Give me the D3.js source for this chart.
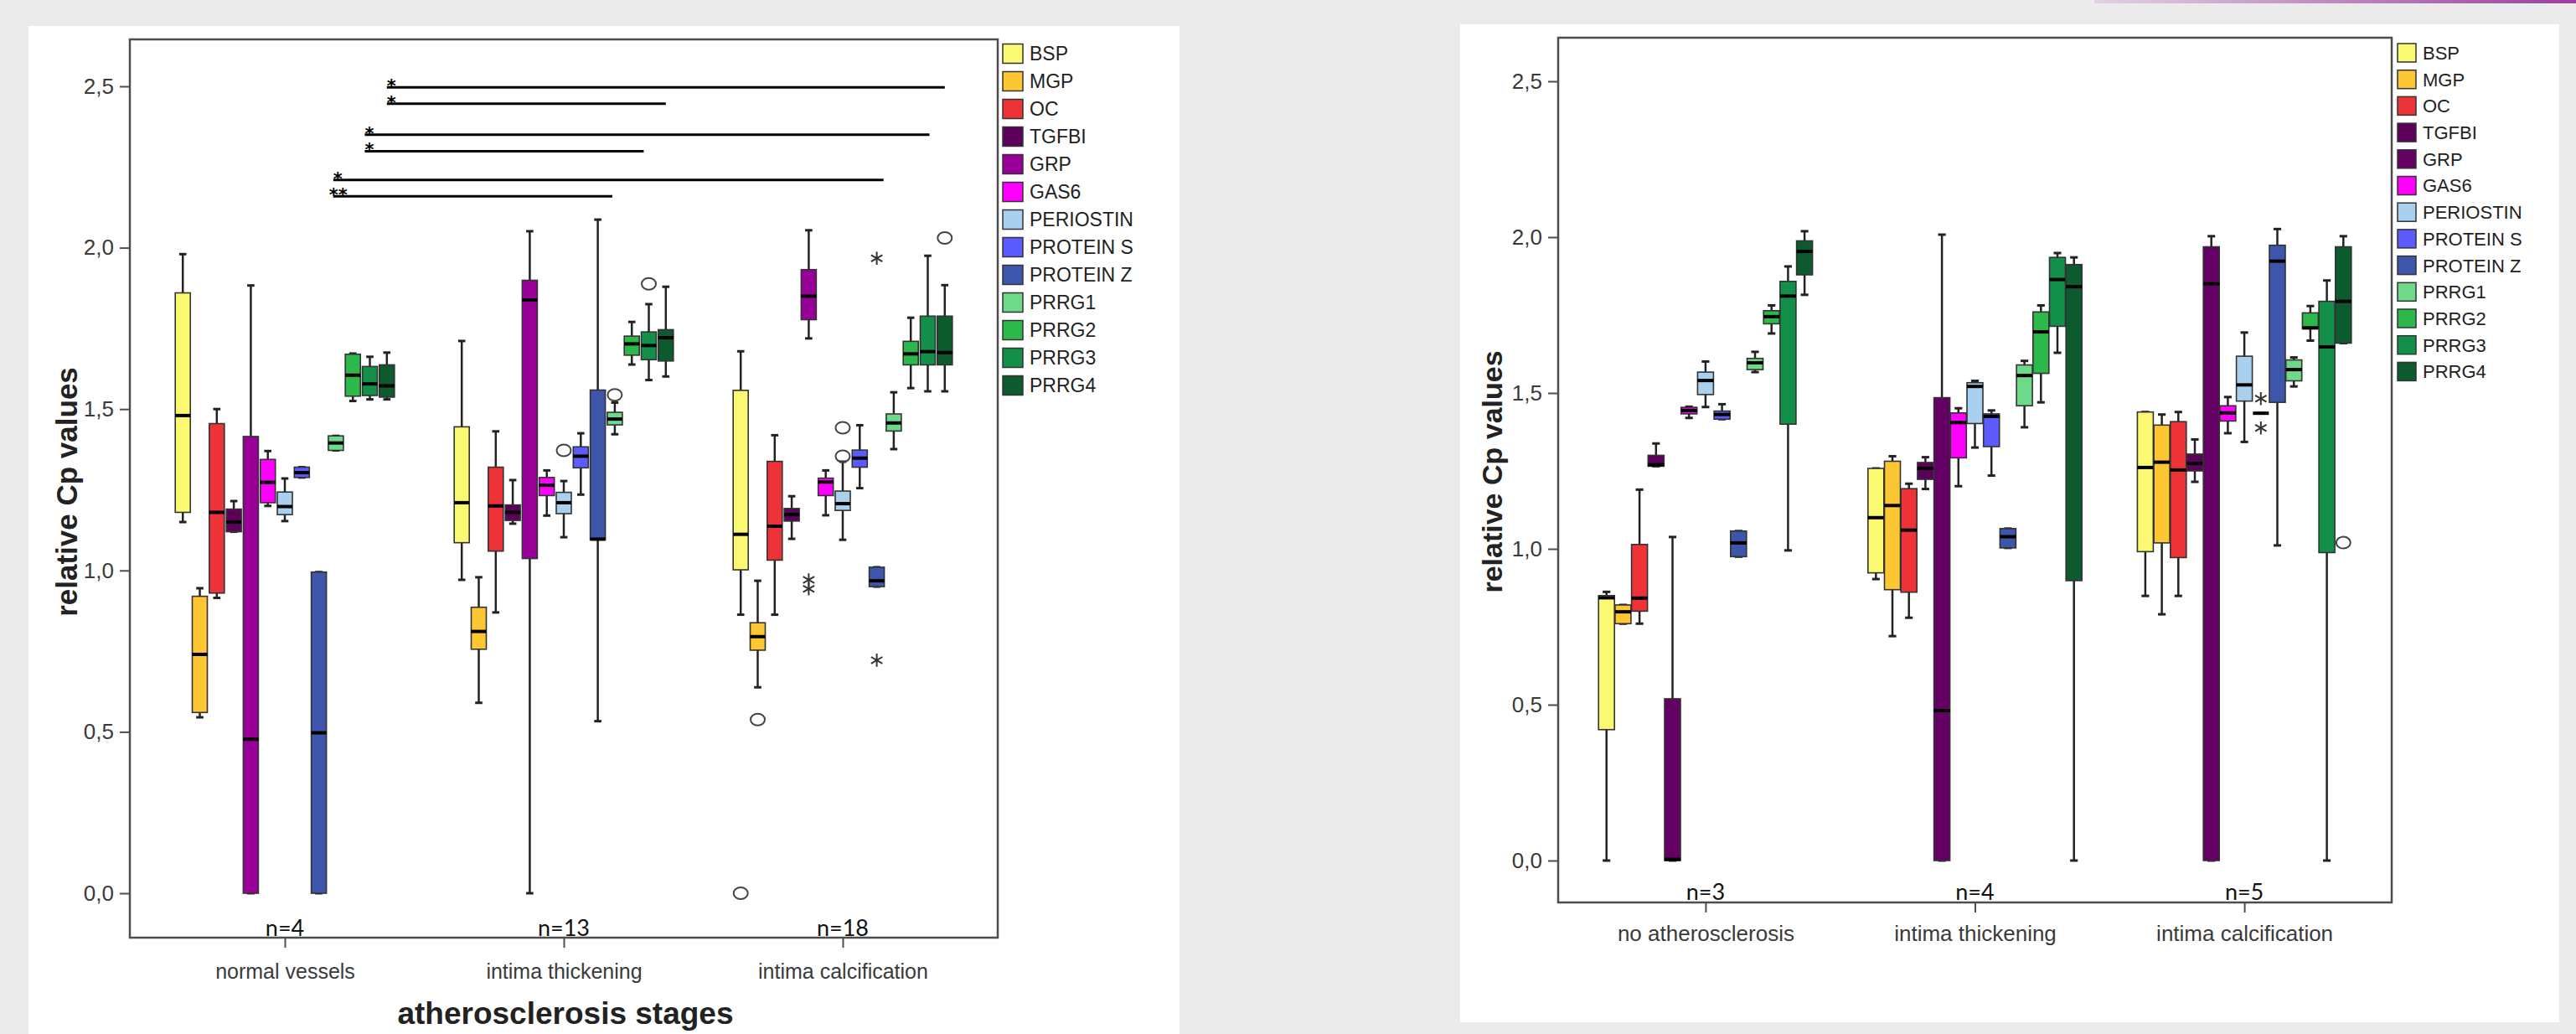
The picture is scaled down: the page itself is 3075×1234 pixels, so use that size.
<!DOCTYPE html>
<html>
<head>
<meta charset="utf-8">
<script src="https://cdn.jsdelivr.net/npm/d3@7"></script>
<style>
body { margin: 0; background: #ebebeb; }
svg text { font-family: "Liberation Sans", Arial, sans-serif; }
</style>
</head>
<body>
<svg id="slide" width="3075" height="1234"></svg>
<script>
// ---- data -------------------------------------------------------------
var genes = ["BSP", "MGP", "OC", "TGFBI", "GRP", "GAS6", "PERIOSTIN",
    "PROTEIN S", "PROTEIN Z", "PRRG1", "PRRG2", "PRRG3", "PRRG4"];

var leftColors = ["#fbf872", "#fdc633", "#ee3338", "#5c005c", "#990099", "#ff00ff",
    "#a9d1ef", "#5b5bff", "#3d55ab", "#6fd98a", "#2db84b", "#12904a", "#0d5a2f"];
var rightColors = ["#fbf872", "#fdc633", "#ee3338", "#5c005c", "#640064", "#ff00ff",
    "#a9d1ef", "#5b5bff", "#3d55ab", "#6fd98a", "#2db84b", "#12904a", "#0d5a2f"];

var leftStages = ["normal vessels", "intima thickening", "intima calcification"];
var leftCounts = ["n=4", "n=13", "n=18"];
var rightStages = ["no atherosclerosis", "intima thickening", "intima calcification"];
var rightCounts = ["n=3", "n=4", "n=5"];
var yTicks = [0, 0.5, 1, 1.5, 2, 2.5];

// box stats per gene: [lower whisker, q1, median, q3, upper whisker]
var leftNormal = [
    [1.15, 1.18, 1.48, 1.86, 1.98],
    [0.545, 0.56, 0.74, 0.92, 0.945],
    [0.915, 0.93, 1.18, 1.455, 1.50],
    [1.12, 1.12, 1.15, 1.19, 1.215],
    [0, 0, 0.477, 1.415, 1.883],
    [1.20, 1.21, 1.273, 1.344, 1.37],
    [1.153, 1.173, 1.198, 1.243, 1.285],
    [1.288, 1.288, 1.303, 1.32, 1.32],
    [0, 0, 0.497, 0.995, 0.995],
    [1.372, 1.372, 1.395, 1.417, 1.417],
    [1.525, 1.54, 1.605, 1.67, 1.672],
    [1.53, 1.542, 1.578, 1.632, 1.662],
    [1.53, 1.537, 1.572, 1.637, 1.675]
];
var leftThickening = [
    [0.971, 1.086, 1.21, 1.445, 1.711],
    [0.59, 0.756, 0.811, 0.886, 0.979],
    [0.87, 1.06, 1.20, 1.32, 1.431],
    [1.145, 1.155, 1.18, 1.203, 1.28],
    [0, 1.037, 1.838, 1.899, 2.051],
    [1.17, 1.232, 1.264, 1.288, 1.31],
    [1.103, 1.176, 1.21, 1.242, 1.277],
    [1.235, 1.318, 1.354, 1.383, 1.425],
    [0.533, 1.095, 1.097, 1.559, 2.087],
    [1.422, 1.451, 1.469, 1.49, 1.52],
    [1.638, 1.667, 1.702, 1.726, 1.77],
    [1.59, 1.653, 1.697, 1.739, 1.825],
    [1.601, 1.649, 1.721, 1.746, 1.879]
];
var leftCalcification = [
    [0.863, 1.002, 1.112, 1.558, 1.679],
    [0.638, 0.753, 0.795, 0.838, 0.968],
    [0.863, 1.032, 1.137, 1.338, 1.419],
    [1.098, 1.153, 1.173, 1.192, 1.23],
    [1.719, 1.777, 1.85, 1.932, 2.054],
    [1.171, 1.232, 1.274, 1.286, 1.31],
    [1.095, 1.186, 1.207, 1.246, 1.337],
    [1.255, 1.32, 1.348, 1.373, 1.45],
    [0.95, 0.95, 0.968, 1.01, 1.01],
    [1.376, 1.432, 1.457, 1.485, 1.552],
    [1.565, 1.637, 1.671, 1.71, 1.783],
    [1.555, 1.637, 1.678, 1.788, 1.975],
    [1.555, 1.637, 1.675, 1.788, 1.884]
];

var rightNoAthero = [
    [0, 0.42, 0.843, 0.85, 0.862],
    [0.76, 0.76, 0.798, 0.82, 0.82],
    [0.76, 0.80, 0.842, 1.014, 1.19],
    [1.265, 1.265, 1.27, 1.30, 1.338],
    [0, 0, 0.004, 0.519, 1.038],
    [1.42, 1.433, 1.444, 1.454, 1.456],
    [1.455, 1.495, 1.54, 1.567, 1.601],
    [1.416, 1.416, 1.431, 1.442, 1.464],
    [0.975, 0.975, 1.019, 1.057, 1.057],
    [1.567, 1.575, 1.597, 1.611, 1.632],
    [1.691, 1.722, 1.745, 1.764, 1.781],
    [0.995, 1.40, 1.811, 1.858, 1.906],
    [1.815, 1.879, 1.954, 1.988, 2.019]
];
var rightThickening = [
    [0.903, 0.923, 1.10, 1.258, 1.258],
    [0.72, 0.869, 1.139, 1.281, 1.297],
    [0.779, 0.861, 1.06, 1.193, 1.209],
    [1.192, 1.223, 1.258, 1.277, 1.294],
    [0, 0, 0.481, 1.485, 2.008],
    [1.201, 1.292, 1.405, 1.436, 1.451],
    [1.325, 1.402, 1.521, 1.533, 1.539],
    [1.235, 1.328, 1.425, 1.433, 1.444],
    [1.003, 1.003, 1.039, 1.065, 1.065],
    [1.39, 1.459, 1.556, 1.59, 1.603],
    [1.47, 1.563, 1.696, 1.76, 1.781],
    [1.629, 1.714, 1.864, 1.935, 1.949],
    [0, 0.898, 1.841, 1.912, 1.935]
];
var rightCalcification = [
    [0.849, 0.991, 1.261, 1.439, 1.439],
    [0.79, 1.019, 1.278, 1.397, 1.431],
    [0.849, 0.972, 1.253, 1.408, 1.439],
    [1.215, 1.25, 1.274, 1.304, 1.351],
    [0, 0, 1.85, 1.969, 2.003],
    [1.371, 1.41, 1.436, 1.459, 1.487],
    [1.343, 1.474, 1.526, 1.618, 1.694],
    [1.435, 1.435, 1.435, 1.435, 1.435],
    [1.011, 1.47, 1.923, 1.974, 2.026],
    [1.521, 1.539, 1.575, 1.606, 1.614],
    [1.668, 1.706, 1.709, 1.757, 1.779],
    [0, 0.988, 1.648, 1.794, 1.861],
    [1.66, 1.66, 1.794, 1.969, 2.003]
];

// outliers: [stage index, gene index, value, kind]  "o" = outlier, "*" = extreme
var leftOutliers = [
    [1, 6, 1.372, "o"], [1, 9, 1.544, "o"], [1, 11, 1.888, "o"],
    [2, 0, 0.0, "o"], [2, 1, 0.538, "o"], [2, 4, 0.971, "*"], [2, 4, 0.943, "*"],
    [2, 6, 1.442, "o"], [2, 6, 1.354, "o"], [2, 8, 1.967, "*"], [2, 8, 0.722, "*"],
    [2, 12, 2.03, "o"]
];
var rightOutliers = [
    [2, 7, 1.482, "*"], [2, 7, 1.388, "*"], [2, 12, 1.02, "o"]
];

// significance bars (left chart): [stage, box position] at each end
var sigStart = [[0, 12], [0, 12], [0, 10.7], [0, 10.7], [0, 8.85], [0, 8.85]];
var sigEnd = [[2, 12], [1, 12], [2, 11.1], [1, 10.7], [2, 8.4], [1, 8.85]];
var sigLevel = [2.497, 2.446, 2.35, 2.299, 2.21, 2.159];
var sigLabel = ["*", "*", "*", "*", "*", "**"];

// ---- drawing ----------------------------------------------------------
var svg = d3.select("#slide");
var comma = d3.formatLocale({ decimal: ",", thousands: ".", grouping: [3], currency: ["", ""] }).format(".1f");

// slide decoration at top right
var grad = svg.append("defs").append("linearGradient").attr("id", "topline");
grad.append("stop").attr("offset", "0%").attr("stop-color", "#e2d2e2");
grad.append("stop").attr("offset", "100%").attr("stop-color", "#9a3f9e");
svg.append("rect").attr("x", 2500).attr("y", 0).attr("width", 575).attr("height", 4)
    .attr("fill", "url(#topline)");

BoxChart = function(_opts) {
    this.o = _opts;
    this.initVis();
};

BoxChart.prototype.initVis = function() {
    var vis = this, o = vis.o;

    vis.g = svg.append("g");

    vis.g.append("rect")
        .attr("x", o.panel[0]).attr("y", o.panel[1])
        .attr("width", o.panel[2]).attr("height", o.panel[3])
        .attr("fill", "#fff");

    vis.x = d3.scalePoint().domain(o.stages).range([o.left, o.right]).padding(o.pad);
    vis.y = d3.scaleLinear().domain([0, 2.5]).range(o.yRange);
    vis.pos = d3.scaleLinear().domain([0, genes.length - 1]).range([-o.half, o.half]);

    // frame
    vis.g.append("rect")
        .attr("x", o.left).attr("y", o.top)
        .attr("width", o.right - o.left).attr("height", o.bottom - o.top)
        .attr("fill", "none").attr("stroke", "#4d4d4d").attr("stroke-width", 2.5);

    // y axis
    var yAxis = vis.g.append("g")
        .attr("transform", "translate(" + o.left + ",0)")
        .call(d3.axisLeft(vis.y).tickValues(yTicks).tickFormat(comma)
            .tickSize(o.tickLen).tickPadding(o.tickPad));
    yAxis.select(".domain").remove();
    yAxis.selectAll("line").attr("stroke", "#4d4d4d").attr("stroke-width", 2);
    yAxis.selectAll("text").attr("fill", "#3a3a3a")
        .style("font-size", o.tickFont + "px").style("font-family", "Liberation Sans, Arial");

    // x axis
    var xAxis = vis.g.append("g")
        .attr("transform", "translate(0," + o.bottom + ")")
        .call(d3.axisBottom(vis.x).tickSize(12).tickPadding(o.catPad));
    xAxis.select(".domain").remove();
    xAxis.selectAll("line").attr("stroke", "#4d4d4d").attr("stroke-width", 2);
    xAxis.selectAll("text").attr("fill", "#3a3a3a")
        .style("font-size", o.catFont + "px").style("font-family", "Liberation Sans, Arial");

    // n labels
    vis.g.selectAll(".ncount")
        .data(o.counts)
        .enter().append("text")
        .attr("class", "ncount")
        .attr("x", function(d, i) { return vis.x(o.stages[i]); })
        .attr("y", o.nY)
        .attr("text-anchor", "middle")
        .style("font-family", "Lato, sans-serif")
        .style("font-size", "27px")
        .attr("fill", "#111")
        .text(function(d) { return d; });

    // y title
    vis.g.append("text")
        .attr("transform", "translate(" + o.yTitle[0] + "," + o.yTitle[1] + ") rotate(-90)")
        .attr("dy", "0.35em")
        .attr("text-anchor", "middle")
        .style("font-weight", "bold")
        .style("font-size", o.yTitleFont + "px")
        .attr("fill", "#222")
        .text("relative Cp values");

    if (o.xTitle) {
        vis.g.append("text")
            .attr("x", o.xTitle[0]).attr("y", o.xTitle[1])
            .attr("text-anchor", "middle")
            .style("font-weight", "bold")
            .style("font-size", "37px")
            .attr("fill", "#222")
            .text("atherosclerosis stages");
    }

    // legend
    var leg = vis.g.selectAll(".leg")
        .data(genes)
        .enter().append("g")
        .attr("class", "leg")
        .attr("transform", function(d, i) {
            return "translate(" + o.legX + "," + (o.legY + i * o.legStep) + ")";
        });
    leg.append("rect")
        .attr("x", 0).attr("y", -o.legH / 2)
        .attr("width", o.legW).attr("height", o.legH)
        .attr("fill", function(d, i) { return o.colors[i]; })
        .attr("stroke", "#333").attr("stroke-width", 1.5);
    leg.append("text")
        .attr("x", o.legW + 8)
        .attr("dy", "0.36em")
        .style("font-size", o.legFont + "px")
        .attr("fill", "#222")
        .text(function(d) { return d; });

    vis.drawBoxes();
};

BoxChart.prototype.drawBoxes = function() {
    var vis = this, o = vis.o;
    var rows = [];
    o.data.forEach(function(stageData, s) {
        stageData.forEach(function(st, i) {
            rows.push({ s: s, i: i, st: st });
        });
    });

    var cx = function(d) { return vis.x(o.stages[d.s]) + vis.pos(d.i); };
    var w = o.boxW;
    var box = vis.g.selectAll(".box")
        .data(rows)
        .enter().append("g")
        .attr("class", "box");

    // whiskers
    box.append("line")
        .attr("x1", cx).attr("x2", cx)
        .attr("y1", function(d) { return vis.y(d.st[4]); })
        .attr("y2", function(d) { return vis.y(d.st[0]); })
        .attr("stroke", "#222").attr("stroke-width", 2.5);
    [0, 4].forEach(function(k) {
        box.append("line")
            .attr("x1", function(d) { return cx(d) - w * 0.24; })
            .attr("x2", function(d) { return cx(d) + w * 0.24; })
            .attr("y1", function(d) { return vis.y(d.st[k]); })
            .attr("y2", function(d) { return vis.y(d.st[k]); })
            .attr("stroke", "#222").attr("stroke-width", 3);
    });

    box.append("rect")
        .attr("x", function(d) { return cx(d) - w / 2; })
        .attr("y", function(d) { return vis.y(d.st[3]); })
        .attr("width", w)
        .attr("height", function(d) { return vis.y(d.st[1]) - vis.y(d.st[3]); })
        .attr("fill", function(d) { return o.colors[d.i]; })
        .attr("stroke", "#333").attr("stroke-width", 1.6);

    box.append("line")
        .attr("x1", function(d) { return cx(d) - w / 2; })
        .attr("x2", function(d) { return cx(d) + w / 2; })
        .attr("y1", function(d) { return vis.y(d.st[2]); })
        .attr("y2", function(d) { return vis.y(d.st[2]); })
        .attr("stroke", "#000").attr("stroke-width", 4);

    // outliers and extremes
    var star = d3.symbol().type(d3.symbolAsterisk || d3.symbolCross).size(170);
    o.outliers.forEach(function(p) {
        var px = vis.x(o.stages[p[0]]) + vis.pos(p[1]);
        var py = vis.y(p[2]);
        if (p[3] === "o") {
            vis.g.append("ellipse")
                .attr("cx", px).attr("cy", py).attr("rx", 8.5).attr("ry", 7)
                .attr("fill", "none").attr("stroke", "#444").attr("stroke-width", 2);
        } else {
            vis.g.append("path")
                .attr("transform", "translate(" + px + "," + py + ")")
                .attr("d", star())
                .attr("fill", "none").attr("stroke", "#333").attr("stroke-width", 2);
        }
    });

    // significance bars
    if (o.sig) {
        sigLevel.forEach(function(lv, k) {
            var x1 = vis.x(o.stages[sigStart[k][0]]) + vis.pos(sigStart[k][1]);
            var x2 = vis.x(o.stages[sigEnd[k][0]]) + vis.pos(sigEnd[k][1]);
            var yy = vis.y(lv);
            vis.g.append("line")
                .attr("x1", x1).attr("x2", x2).attr("y1", yy).attr("y2", yy)
                .attr("stroke", "#000").attr("stroke-width", 3);
            vis.g.append("text")
                .attr("x", x1 - (sigLabel[k].length > 1 ? 5 : 0))
                .attr("y", yy + 6)
                .style("font-family", "DejaVu Sans, sans-serif")
                .style("font-weight", "bold")
                .style("font-size", "21px")
                .attr("fill", "#000")
                .text(sigLabel[k]);
        });
    }
};

new BoxChart({
    panel: [34, 31, 1374, 1203],
    left: 155, right: 1191, top: 47, bottom: 1119,
    yRange: [1066, 103], pad: 0.5556, half: 121.8, boxW: 18,
    stages: leftStages, counts: leftCounts, colors: leftColors,
    data: [leftNormal, leftThickening, leftCalcification],
    outliers: leftOutliers, sig: true,
    tickLen: 12, tickPad: 7, tickFont: 26, catPad: 19, catFont: 25,
    nY: 1117, yTitle: [80, 587], yTitleFont: 35, xTitle: [675, 1222],
    legX: 1197, legY: 64, legStep: 33, legW: 24, legH: 23, legFont: 23
});

new BoxChart({
    panel: [1743, 29, 1312, 1191],
    left: 1860, right: 2855, top: 45, bottom: 1077,
    yRange: [1027, 97], pad: 0.547, half: 118.2, boxW: 19,
    stages: rightStages, counts: rightCounts, colors: rightColors,
    data: [rightNoAthero, rightThickening, rightCalcification],
    outliers: rightOutliers, sig: false,
    tickLen: 12, tickPad: 7, tickFont: 26, catPad: 16, catFont: 26,
    nY: 1074, yTitle: [1781, 563], yTitleFont: 34, xTitle: null,
    legX: 2862, legY: 63, legStep: 31.7, legW: 22, legH: 22, legFont: 22
});
</script>
</body>
</html>
